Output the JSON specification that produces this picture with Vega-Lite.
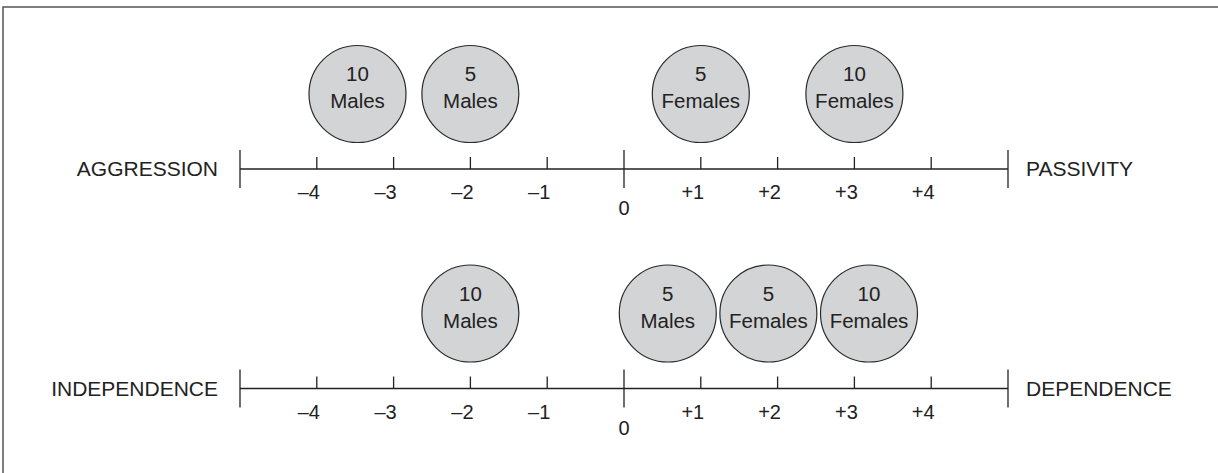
{
  "$schema": "https://vega.github.io/schema/vega-lite/v6.json",
  "width": 1230,
  "height": 480,
  "autosize": "none",
  "padding": {"left": 3, "top": 7, "right": 0, "bottom": 0},
  "background": "white",
  "config": {"view": {"stroke": "#555555", "strokeWidth": 1.5}, "font": "Liberation Sans"},
  "datasets": {
    "lines": [
      {"dimension": "Aggression–Passivity", "from": -5, "to": 5},
      {"dimension": "Independence–Dependence", "from": -5, "to": 5}
    ],
    "ticks": [
      {"dimension": "Aggression–Passivity", "value": -5, "kind": "end", "label": ""},
      {"dimension": "Aggression–Passivity", "value": -4, "kind": "minor", "label": "–4"},
      {"dimension": "Aggression–Passivity", "value": -3, "kind": "minor", "label": "–3"},
      {"dimension": "Aggression–Passivity", "value": -2, "kind": "minor", "label": "–2"},
      {"dimension": "Aggression–Passivity", "value": -1, "kind": "minor", "label": "–1"},
      {"dimension": "Aggression–Passivity", "value": 0, "kind": "zero", "label": "0"},
      {"dimension": "Aggression–Passivity", "value": 1, "kind": "minor", "label": "+1"},
      {"dimension": "Aggression–Passivity", "value": 2, "kind": "minor", "label": "+2"},
      {"dimension": "Aggression–Passivity", "value": 3, "kind": "minor", "label": "+3"},
      {"dimension": "Aggression–Passivity", "value": 4, "kind": "minor", "label": "+4"},
      {"dimension": "Aggression–Passivity", "value": 5, "kind": "end", "label": ""},
      {"dimension": "Independence–Dependence", "value": -5, "kind": "end", "label": ""},
      {"dimension": "Independence–Dependence", "value": -4, "kind": "minor", "label": "–4"},
      {"dimension": "Independence–Dependence", "value": -3, "kind": "minor", "label": "–3"},
      {"dimension": "Independence–Dependence", "value": -2, "kind": "minor", "label": "–2"},
      {"dimension": "Independence–Dependence", "value": -1, "kind": "minor", "label": "–1"},
      {"dimension": "Independence–Dependence", "value": 0, "kind": "zero", "label": "0"},
      {"dimension": "Independence–Dependence", "value": 1, "kind": "minor", "label": "+1"},
      {"dimension": "Independence–Dependence", "value": 2, "kind": "minor", "label": "+2"},
      {"dimension": "Independence–Dependence", "value": 3, "kind": "minor", "label": "+3"},
      {"dimension": "Independence–Dependence", "value": 4, "kind": "minor", "label": "+4"},
      {"dimension": "Independence–Dependence", "value": 5, "kind": "end", "label": ""}
    ],
    "groups": [
      {"dimension": "Aggression–Passivity", "position": -3.47, "count": "10", "sex": "Males"},
      {"dimension": "Aggression–Passivity", "position": -2, "count": "5", "sex": "Males"},
      {"dimension": "Aggression–Passivity", "position": 1, "count": "5", "sex": "Females"},
      {"dimension": "Aggression–Passivity", "position": 3, "count": "10", "sex": "Females"},
      {"dimension": "Independence–Dependence", "position": -2, "count": "10", "sex": "Males"},
      {"dimension": "Independence–Dependence", "position": 0.57, "count": "5", "sex": "Males"},
      {"dimension": "Independence–Dependence", "position": 1.88, "count": "5", "sex": "Females"},
      {"dimension": "Independence–Dependence", "position": 3.19, "count": "10", "sex": "Females"}
    ],
    "poles": [
      {"dimension": "Aggression–Passivity", "end": -5, "side": "left", "name": "AGGRESSION"},
      {"dimension": "Aggression–Passivity", "end": 5, "side": "right", "name": "PASSIVITY"},
      {"dimension": "Independence–Dependence", "end": -5, "side": "left", "name": "INDEPENDENCE"},
      {"dimension": "Independence–Dependence", "end": 5, "side": "right", "name": "DEPENDENCE"}
    ]
  },
  "layer": [
    {
      "data": {"name": "lines"},
      "mark": {"type": "rule", "stroke": "#222222", "strokeWidth": 1.3},
      "encoding": {
        "x": {"field": "from", "type": "quantitative", "scale": {"domain": [-8.0859375, 7.9296875], "nice": false, "zero": false}, "axis": null},
        "x2": {"field": "to"},
        "y": {"field": "dimension", "type": "nominal", "scale": {"type": "point", "padding": 0, "domain": ["Aggression–Passivity", "Independence–Dependence"], "range": [162, 381.5]}, "axis": null}
      }
    },
    {
      "data": {"name": "ticks"},
      "transform": [{"filter": "datum.kind === 'minor'"}],
      "mark": {"type": "rule", "stroke": "#222222", "strokeWidth": 1.3, "y2Offset": -12},
      "encoding": {
        "x": {"field": "value", "type": "quantitative", "scale": {"domain": [-8.0859375, 7.9296875], "nice": false, "zero": false}, "axis": null},
        "y": {"field": "dimension", "type": "nominal", "scale": {"type": "point", "padding": 0, "domain": ["Aggression–Passivity", "Independence–Dependence"], "range": [162, 381.5]}, "axis": null},
        "y2": {"field": "dimension"}
      }
    },
    {
      "data": {"name": "ticks"},
      "transform": [{"filter": "datum.kind !== 'minor'"}],
      "mark": {"type": "rule", "stroke": "#222222", "strokeWidth": 1.3, "yOffset": -19, "y2Offset": 19},
      "encoding": {
        "x": {"field": "value", "type": "quantitative", "scale": {"domain": [-8.0859375, 7.9296875], "nice": false, "zero": false}, "axis": null},
        "y": {"field": "dimension", "type": "nominal", "scale": {"type": "point", "padding": 0, "domain": ["Aggression–Passivity", "Independence–Dependence"], "range": [162, 381.5]}, "axis": null},
        "y2": {"field": "dimension"}
      }
    },
    {
      "data": {"name": "ticks"},
      "transform": [{"filter": "datum.kind === 'minor'"}],
      "mark": {"type": "text", "fontSize": 20, "color": "#222222", "align": "center", "baseline": "middle", "dx": -8, "dy": 24},
      "encoding": {
        "x": {"field": "value", "type": "quantitative", "scale": {"domain": [-8.0859375, 7.9296875], "nice": false, "zero": false}, "axis": null},
        "y": {"field": "dimension", "type": "nominal", "scale": {"type": "point", "padding": 0, "domain": ["Aggression–Passivity", "Independence–Dependence"], "range": [162, 381.5]}, "axis": null},
        "text": {"field": "label"}
      }
    },
    {
      "data": {"name": "ticks"},
      "transform": [{"filter": "datum.kind === 'zero'"}],
      "mark": {"type": "text", "fontSize": 20, "color": "#222222", "align": "center", "baseline": "middle", "dy": 40},
      "encoding": {
        "x": {"field": "value", "type": "quantitative", "scale": {"domain": [-8.0859375, 7.9296875], "nice": false, "zero": false}, "axis": null},
        "y": {"field": "dimension", "type": "nominal", "scale": {"type": "point", "padding": 0, "domain": ["Aggression–Passivity", "Independence–Dependence"], "range": [162, 381.5]}, "axis": null},
        "text": {"field": "label"}
      }
    },
    {
      "data": {"name": "poles"},
      "transform": [{"filter": "datum.side === 'left'"}],
      "mark": {"type": "text", "fontSize": 21, "color": "#222222", "align": "right", "baseline": "middle", "dx": -22, "dy": 1},
      "encoding": {
        "x": {"field": "end", "type": "quantitative", "scale": {"domain": [-8.0859375, 7.9296875], "nice": false, "zero": false}, "axis": null},
        "y": {"field": "dimension", "type": "nominal", "scale": {"type": "point", "padding": 0, "domain": ["Aggression–Passivity", "Independence–Dependence"], "range": [162, 381.5]}, "axis": null},
        "text": {"field": "name"}
      }
    },
    {
      "data": {"name": "poles"},
      "transform": [{"filter": "datum.side === 'right'"}],
      "mark": {"type": "text", "fontSize": 21, "color": "#222222", "align": "left", "baseline": "middle", "dx": 18, "dy": 1},
      "encoding": {
        "x": {"field": "end", "type": "quantitative", "scale": {"domain": [-8.0859375, 7.9296875], "nice": false, "zero": false}, "axis": null},
        "y": {"field": "dimension", "type": "nominal", "scale": {"type": "point", "padding": 0, "domain": ["Aggression–Passivity", "Independence–Dependence"], "range": [162, 381.5]}, "axis": null},
        "text": {"field": "name"}
      }
    },
    {
      "data": {"name": "groups"},
      "mark": {"type": "point", "shape": "circle", "size": 9409, "filled": true, "fill": "#d3d4d6", "stroke": "#2a2a2a", "strokeWidth": 1.2, "opacity": 1, "fillOpacity": 1, "yOffset": -75},
      "encoding": {
        "x": {"field": "position", "type": "quantitative", "scale": {"domain": [-8.0859375, 7.9296875], "nice": false, "zero": false}, "axis": null},
        "y": {"field": "dimension", "type": "nominal", "scale": {"type": "point", "padding": 0, "domain": ["Aggression–Passivity", "Independence–Dependence"], "range": [162, 381.5]}, "axis": null}
      }
    },
    {
      "data": {"name": "groups"},
      "mark": {"type": "text", "fontSize": 20.5, "color": "#222222", "align": "center", "baseline": "middle", "yOffset": -75, "dy": -19},
      "encoding": {
        "x": {"field": "position", "type": "quantitative", "scale": {"domain": [-8.0859375, 7.9296875], "nice": false, "zero": false}, "axis": null},
        "y": {"field": "dimension", "type": "nominal", "scale": {"type": "point", "padding": 0, "domain": ["Aggression–Passivity", "Independence–Dependence"], "range": [162, 381.5]}, "axis": null},
        "text": {"field": "count"}
      }
    },
    {
      "data": {"name": "groups"},
      "mark": {"type": "text", "fontSize": 20.5, "color": "#222222", "align": "center", "baseline": "middle", "yOffset": -75, "dy": 8},
      "encoding": {
        "x": {"field": "position", "type": "quantitative", "scale": {"domain": [-8.0859375, 7.9296875], "nice": false, "zero": false}, "axis": null},
        "y": {"field": "dimension", "type": "nominal", "scale": {"type": "point", "padding": 0, "domain": ["Aggression–Passivity", "Independence–Dependence"], "range": [162, 381.5]}, "axis": null},
        "text": {"field": "sex"}
      }
    }
  ]
}
